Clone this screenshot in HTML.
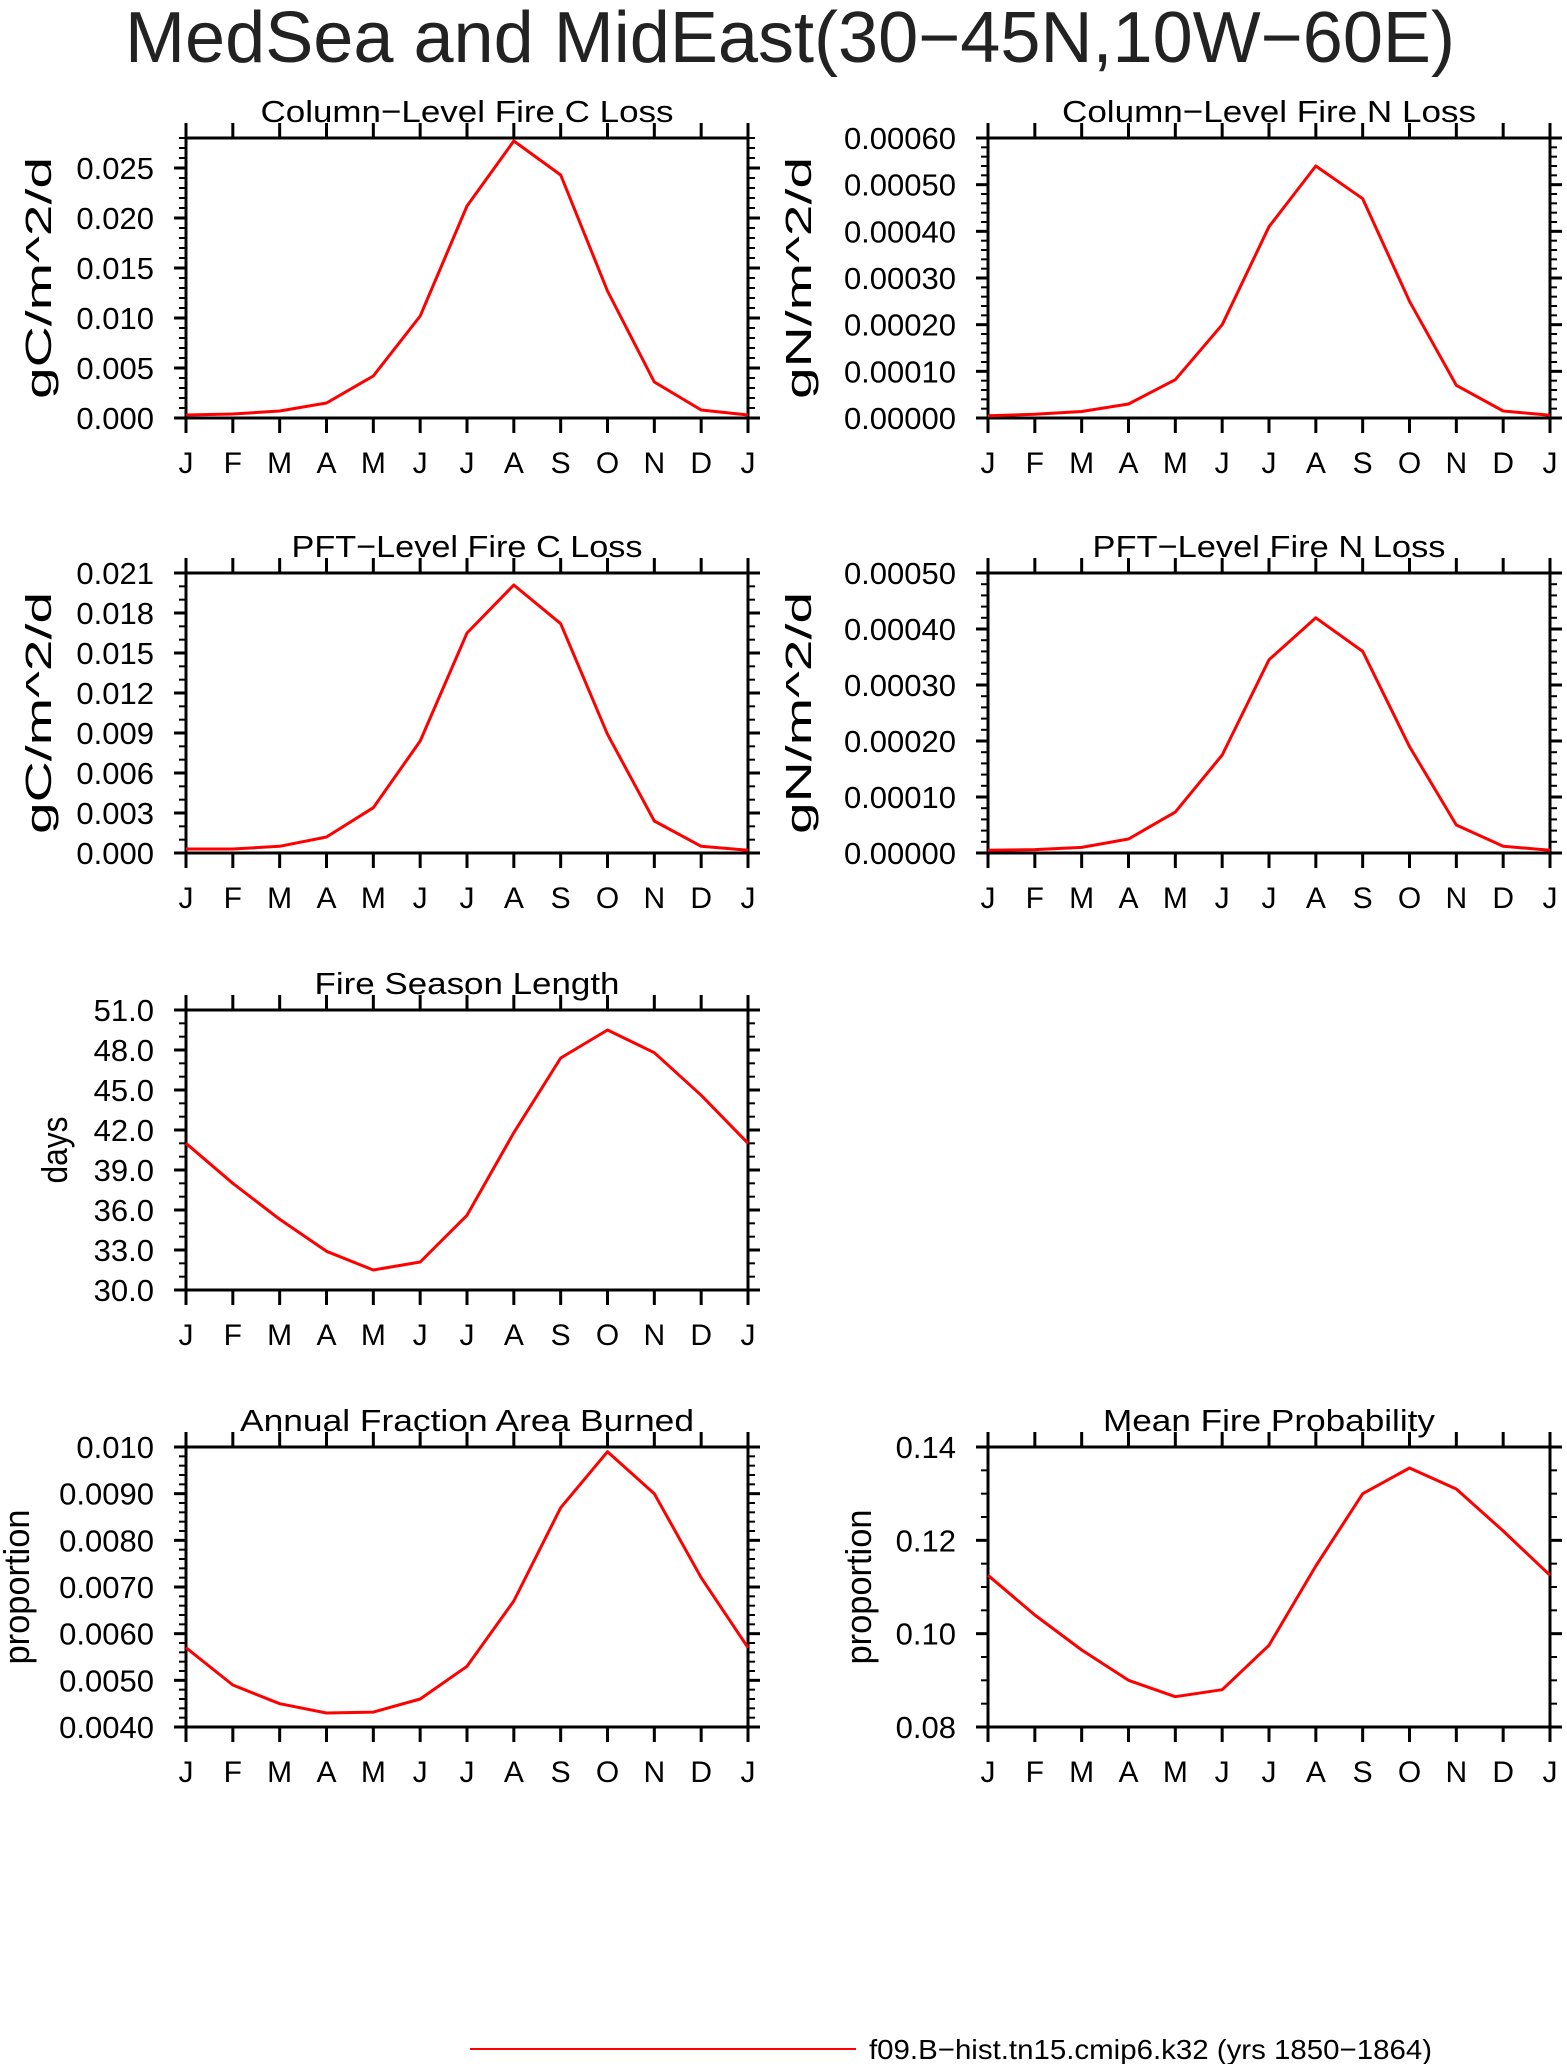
<!DOCTYPE html>
<html><head><meta charset="utf-8"><style>
html,body{margin:0;padding:0;background:#fff}
svg{display:block;font-family:"Liberation Sans",sans-serif}
</style></head><body>
<svg id="fig" width="1567" height="2064" viewBox="0 0 1567 2064" xmlns="http://www.w3.org/2000/svg">
<text x="125" y="62" font-size="72" textLength="1330" lengthAdjust="spacingAndGlyphs" fill="#222">MedSea and MidEast(30−45N,10W−60E)</text>
<g id="panels"></g>
<line x1="470" y1="2049" x2="856" y2="2049" stroke="#f00" stroke-width="2"/>
<text x="869" y="2059" font-size="28" textLength="563" lengthAdjust="spacingAndGlyphs">f09.B−hist.tn15.cmip6.k32 (yrs 1850−1864)</text>
</svg>
<script>
const months = ["J","F","M","A","M","J","J","A","S","O","N","D","J"];
const colC = [0.0003,0.0004,0.0007,0.0015,0.0042,0.0102,0.0212,0.0277,0.0243,0.0127,0.0036,0.0008,0.0003];
const colN = [0.000005,0.000008,0.000014,0.00003,0.000082,0.0002,0.00041,0.00054,0.00047,0.00025,0.00007,0.000015,0.000006];
const pftC = [0.0003,0.0003,0.0005,0.0012,0.0034,0.0084,0.0165,0.0201,0.0172,0.0089,0.0024,0.0005,0.0002];
const pftN = [0.000005,0.000006,0.00001,0.000025,0.000073,0.000175,0.000345,0.00042,0.00036,0.00019,0.00005,0.000012,0.000005];
const seasonLen = [41.0,38.0,35.3,32.9,31.5,32.1,35.6,41.8,47.4,49.5,47.8,44.6,41.0];
const fracBurned = [0.0057,0.0049,0.0045,0.0043,0.00432,0.0046,0.0053,0.0067,0.0087,0.0099,0.0090,0.0072,0.0057];
const fireProb = [0.1125,0.104,0.0965,0.090,0.0865,0.088,0.0975,0.1145,0.130,0.1355,0.131,0.122,0.1125];
const ticksColC = ["0.000","0.005","0.010","0.015","0.020","0.025"];
const ticksColN = ["0.00000","0.00010","0.00020","0.00030","0.00040","0.00050","0.00060"];
const ticksPftC = ["0.000","0.003","0.006","0.009","0.012","0.015","0.018","0.021"];
const ticksPftN = ["0.00000","0.00010","0.00020","0.00030","0.00040","0.00050"];
const ticksSeason = ["30.0","33.0","36.0","39.0","42.0","45.0","48.0","51.0"];
const ticksFrac = ["0.0040","0.0050","0.0060","0.0070","0.0080","0.0090","0.010"];
const ticksProb = ["0.08","0.10","0.12","0.14"];

const NS="http://www.w3.org/2000/svg";
const root=document.getElementById('panels');
function mk(tag,attrs,parent){const e=document.createElementNS(NS,tag);for(const k in attrs)e.setAttribute(k,attrs[k]);parent.appendChild(e);return e;}

const panels=[
 {name:'column-fire-c-loss',title:'Column−Level Fire C Loss',tl:413,ylab:'gC/m^2/d',yl:242,x0:186,y0:138,data:colC,ymin:0,ymax:0.028,major:0.005,minor:0.001,ticks:ticksColC,labx:38},
 {name:'column-fire-n-loss',title:'Column−Level Fire N Loss',tl:414,ylab:'gN/m^2/d',yl:242,x0:988,y0:138,data:colN,ymin:0,ymax:0.0006,major:0.0001,minor:0.00002,ticks:ticksColN,labx:798},
 {name:'pft-fire-c-loss',title:'PFT−Level Fire C Loss',tl:351,ylab:'gC/m^2/d',yl:242,x0:186,y0:573,data:pftC,ymin:0,ymax:0.021,major:0.003,minor:0.001,ticks:ticksPftC,labx:38},
 {name:'pft-fire-n-loss',title:'PFT−Level Fire N Loss',tl:353,ylab:'gN/m^2/d',yl:242,x0:988,y0:573,data:pftN,ymin:0,ymax:0.0005,major:0.0001,minor:0.00002,ticks:ticksPftN,labx:798},
 {name:'fire-season-length',title:'Fire Season Length',tl:305,ylab:'days',yl:67,x0:186,y0:1010,data:seasonLen,ymin:30,ymax:51,major:3,minor:1,ticks:ticksSeason,labx:54},
 {name:'annual-fraction-area-burned',title:'Annual Fraction Area Burned',tl:454,ylab:'proportion',yl:155,x0:186,y0:1447,data:fracBurned,ymin:0.004,ymax:0.010,major:0.001,minor:0.0002,ticks:ticksFrac,labx:16},
 {name:'mean-fire-probability',title:'Mean Fire Probability',tl:332,ylab:'proportion',yl:155,x0:988,y0:1447,data:fireProb,ymin:0.08,ymax:0.14,major:0.02,minor:0.005,ticks:ticksProb,labx:858}
];
const W=562,H=280;
panels.forEach(p=>{
 const g=mk('g',{},root);
 
 
 const xs=i=>p.x0+i*W/12;
 const ys=v=>p.y0+H-(v-p.ymin)/(p.ymax-p.ymin)*H;
 const nMinor=Math.round((p.ymax-p.ymin)/p.minor);
 for(let k=0;k<=nMinor;k++){
  const v=p.ymin+k*p.minor, y=ys(v);
  const isMaj=Math.abs(((v-p.ymin)/p.major)-Math.round((v-p.ymin)/p.major))<1e-6;
  const L=isMaj?12:7;
  const t1=mk('line',{x1:p.x0-L,y1:y,x2:p.x0,y2:y,stroke:'#000','stroke-width':isMaj?3:2},g);
  
  
  const t2=mk('line',{x1:p.x0+W,y1:y,x2:p.x0+W+L,y2:y,stroke:'#000','stroke-width':isMaj?3:2},g);
  
  
 }
 p.ticks.forEach((t,k)=>{
  const y=ys(p.ymin+k*p.major);
  const tx=mk('text',{x:p.x0-32,y:y+11,'font-size':31,'text-anchor':'end'},g);
  tx.textContent=t;
  
  
 });
 months.forEach((m,i)=>{
  const x=xs(i);
  const a=mk('line',{x1:x,y1:p.y0+H,x2:x,y2:p.y0+H+15,stroke:'#000','stroke-width':3},g);
  
  
  const b=mk('line',{x1:x,y1:p.y0-15,x2:x,y2:p.y0,stroke:'#000','stroke-width':3},g);
  
  
  const tx=mk('text',{x:x,y:p.y0+H+55,'font-size':30,'text-anchor':'middle'},g);
  tx.textContent=m;
  
  
 });
 const fr=mk('rect',{x:p.x0,y:p.y0,width:W,height:H,fill:'none',stroke:'#000','stroke-width':3},g);
 
 
 const pts=p.data.map((v,i)=>xs(i).toFixed(1)+','+ys(v).toFixed(1)).join(' ');
 const ln=mk('polyline',{points:pts,fill:'none',stroke:'#f00','stroke-width':3,'stroke-linejoin':'round'},g);
 
 
 const tt=mk('text',{x:p.x0+W/2-p.tl/2,y:p.y0-16,'font-size':31,textLength:p.tl,lengthAdjust:'spacingAndGlyphs'},g);
 tt.textContent=p.title;
 
 
 const yl=mk('text',{x:-p.yl/2,y:0,'font-size':36,textLength:p.yl,lengthAdjust:'spacingAndGlyphs',transform:`translate(${p.labx+13},${p.y0+H/2}) rotate(-90)`},g);
 yl.textContent=p.ylab;
 
 
});
</script>
</body></html>
